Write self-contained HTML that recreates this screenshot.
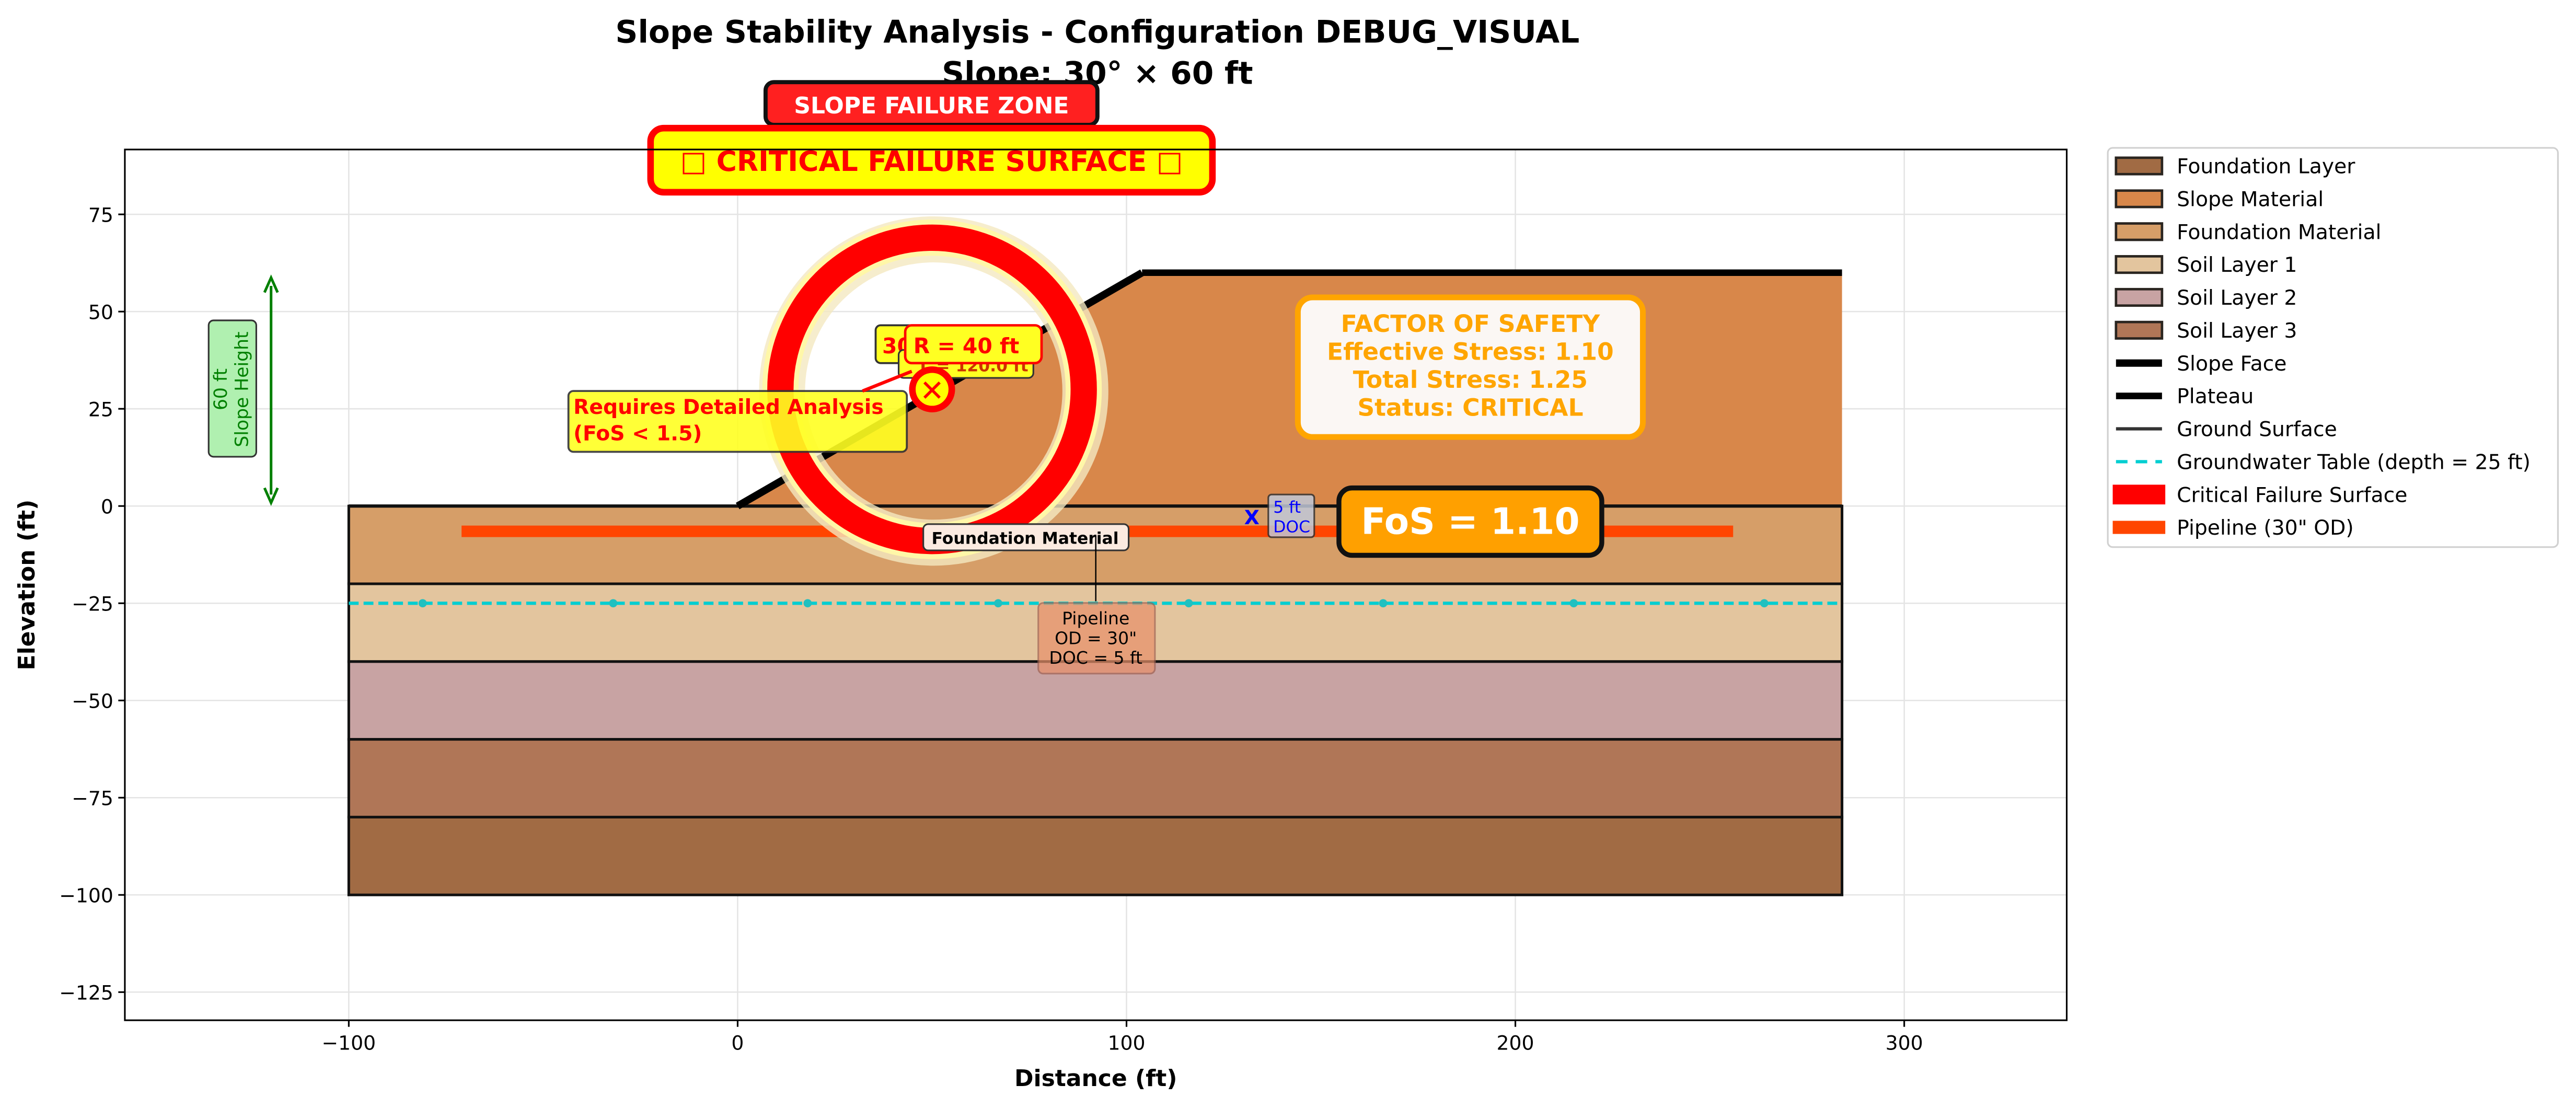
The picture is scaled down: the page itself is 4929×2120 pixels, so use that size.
<!DOCTYPE html>
<html><head><meta charset="utf-8"><style>
html,body{margin:0;padding:0;background:#fff}
svg{display:block;font-family:"DejaVu Sans","Liberation Sans",sans-serif}
</style></head><body>
<svg id="chart" width="4929" height="2120" viewBox="0 0 1568 674.4" xmlns="http://www.w3.org/2000/svg">
<text x="668" y="26" text-anchor="middle" font-size="19" font-weight="bold">Slope Stability Analysis - Configuration DEBUG_VISUAL</text>
<text x="668" y="51" text-anchor="middle" font-size="19" font-weight="bold">Slope: 30° × 60 ft</text>
<g id="plot"></g>
<g id="legend"></g>
</svg>
<script>
const xTicks=[-100,0,100,200,300];
const yTicks=[75,50,25,0,-25,-50,-75,-100,-125];
const layerNames=["Foundation Material","Soil Layer 1","Soil Layer 2","Soil Layer 3","Foundation Layer"];
const layerTops=[0,-20,-40,-60,-80];
const layerBottoms=[-20,-40,-60,-80,-100];
const layerColors=["#d69e68","#e3c59e","#c8a3a3","#b07657","#a16b44"];
const slopeX=[0,104,284,284];
const slopeY=[0,60,60,0];
const groundX=[-100,284];
const gwDepth=-25;
const gwMarkers=[-81,-32,18,67,116,166,215,264];
const pipeX=[-71,256];
const pipeY=-6.5;
const circleCenter=[50,30];
const circleR=39;

const L=76,R=1258,T=91,B=621;
const X=v=>449+v*2.367;
const Y=v=>308-v*2.367;
const NS="http://www.w3.org/2000/svg";
const plot=document.getElementById('plot');
function el(tag,attrs,parent,text){const e=document.createElementNS(NS,tag);for(const k in attrs)e.setAttribute(k,attrs[k]);if(text!==undefined)e.textContent=text;(parent||plot).appendChild(e);return e;}

xTicks.forEach(t=>{const g=el('line',{x1:X(t),x2:X(t),y1:T,y2:B,stroke:'#e4e4e4','stroke-width':0.8});

});
yTicks.forEach(t=>{const g=el('line',{x1:L,x2:R,y1:Y(t),y2:Y(t),stroke:'#e4e4e4','stroke-width':0.8});

});

layerNames.forEach((n,i)=>{const r=el('rect',{x:X(-100),y:Y(layerTops[i]),width:X(284)-X(-100),height:Y(layerBottoms[i])-Y(layerTops[i]),fill:layerColors[i],stroke:'#111','stroke-width':1.6});

});
const sp=el('polygon',{points:slopeX.map((x,i)=>X(x)+','+Y(slopeY[i])).join(' '),fill:'#d8874a'});


const gs=el('line',{x1:X(groundX[0]),x2:X(groundX[1]),y1:Y(0),y2:Y(0),stroke:'#111','stroke-width':2});


const sf=el('line',{x1:X(slopeX[0]),y1:Y(slopeY[0]),x2:X(slopeX[1]),y2:Y(slopeY[1]),stroke:'#000','stroke-width':4.5});


const pl=el('line',{x1:X(slopeX[1]),y1:Y(slopeY[1]),x2:X(slopeX[2]),y2:Y(slopeY[2]),stroke:'#000','stroke-width':4});


const gw=el('line',{x1:X(-100),x2:X(284),y1:Y(gwDepth),y2:Y(gwDepth),stroke:'#00ced1','stroke-width':2,'stroke-dasharray':'6,3'});


gwMarkers.forEach(m=>{const c=el('circle',{cx:X(m),cy:Y(gwDepth),r:2.5,fill:'#20c0c0'});

});
const pp=el('line',{x1:X(pipeX[0]),x2:X(pipeX[1]),y1:Y(pipeY),y2:Y(pipeY),stroke:'#ff4500','stroke-width':7});



const cx=X(circleCenter[0]),cy=Y(circleCenter[1]),cr=circleR*2.367;
const h1=el('circle',{cx:cx+1,cy:cy+1,r:cr,fill:'none',stroke:'#f4e8c0','stroke-width':28,opacity:0.8});


const h2=el('circle',{cx,cy,r:cr,fill:'none',stroke:'#fff7a8','stroke-width':22});


const fc=el('circle',{cx,cy,r:cr,fill:'none',stroke:'#ff0000','stroke-width':16});



function box(name,x,y,w,h,fill,stroke,sw,rx,op){const r=el('rect',{x,y,width:w,height:h,fill,stroke,'stroke-width':sw,rx:rx||4,opacity:op||1});

return r;}
function txt(name,x,y,s,opts){const t=el('text',Object.assign({x,y},opts||{}),plot,s);

return t;}

box('requires-analysis-box',346,238,206,37,'#ffff22','#333',1.2,3,0.9);
txt('requires-analysis-text',349,252,'Requires Detailed Analysis',{'font-size':12.5,'font-weight':'bold',fill:'#ff0000'});
txt('requires-analysis-fos',349,268,'(FoS < 1.5)',{'font-size':12.5,'font-weight':'bold',fill:'#ff0000'});
box('angle-label-box',533,198,40,23,'#ffff22','#333',1.2,3);
txt('angle-label',537,215,'30°',{'font-size':13,'font-weight':'bold',fill:'#ff0000'});
box('length-label-box',547,213,82,17,'#ffff22','#333',1,3);
txt('length-label',560,226,'L = 120.0 ft',{'font-size':10,'font-weight':'bold',fill:'#cc3300'});
box('radius-label-box',551,198,83,23,'#ffff22','#ff0000',1.5,4);
txt('radius-label',556,215,'R = 40 ft',{'font-size':13,'font-weight':'bold',fill:'#ff0000'});
const ar=el('line',{x1:555,y1:226,x2:525,y2:238,stroke:'#ff0000','stroke-width':2});


const cm=el('circle',{cx,cy,r:12,fill:'#ffff00',stroke:'#ff0000','stroke-width':4});


txt('circle-center-x',cx,cy+7,'✕',{'font-size':18,'font-weight':'bold',fill:'#ff0000','text-anchor':'middle'});

box('slope-failure-zone-box',466,50,202,26,'#ff2020','#111',2.5,5);
txt('slope-failure-zone-text',567,69,'SLOPE FAILURE ZONE',{'font-size':14,'font-weight':'bold',fill:'#fff','text-anchor':'middle'});
box('critical-failure-banner',396,78,342,39,'#ffff00','#ff0000',4,8);
txt('critical-failure-banner-text',567,104,'□ CRITICAL FAILURE SURFACE □',{'font-size':17,'font-weight':'bold',fill:'#ff0000','text-anchor':'middle'});

box('factor-of-safety-box',790,181,210,85,'#fbf7f4','#ffa500',3.5,9);
[['FACTOR OF SAFETY',202],['Effective Stress: 1.10',219],['Total Stress: 1.25',236],['Status: CRITICAL',253]].forEach(([s,y])=>txt('fos-summary-line',895,y,s,{'font-size':14.5,'font-weight':'bold',fill:'#ffa500','text-anchor':'middle'}));
box('fos-badge',815,297,160,41,'#ffa000','#111',3,8);
txt('fos-badge-text',895,325,'FoS = 1.10',{'font-size':22,'font-weight':'bold',fill:'#fff','text-anchor':'middle'});

txt('doc-marker',762,319,'X',{'font-size':12,'font-weight':'bold',fill:'#0000ff','text-anchor':'middle'});
box('doc-box',772,301,28,26,'#c0c8d8','#333',1,2,0.85);
txt('doc-label-1',775,312,'5 ft',{'font-size':10,fill:'#0000ff'});
txt('doc-label-2',775,324,'DOC',{'font-size':10,fill:'#0000ff'});

box('foundation-material-label-box',562,319,125,16,'#fbeae0','#333',1,3);
txt('foundation-material-label',624,331,'Foundation Material',{'font-size':10,'font-weight':'bold',fill:'#000','text-anchor':'middle'});
const pa=el('line',{x1:667,y1:326,x2:667,y2:366,stroke:'#000','stroke-width':0.8});


box('pipeline-label-box',632,367,71,43,'#e8906a','#a06050',1,3,0.7);
[['Pipeline',380],['OD = 30"',392],['DOC = 5 ft',404]].forEach(([s,y])=>txt('pipeline-label-line',667,y,s,{'font-size':10.5,fill:'#000','text-anchor':'middle'}));

const sh=el('line',{x1:165,y1:174,x2:165,y2:301,stroke:'#008000','stroke-width':1.6});


const a1=el('path',{d:'M161,178 L165,169 L169,178 M161,297 L165,306 L169,297',fill:'none',stroke:'#008000','stroke-width':1.6});


box('slope-height-box',127,195,29,83,'#b0f0b0','#333',1,3);
txt('slope-height-label-1',0,0,'60 ft',{'font-size':11,fill:'#008000','text-anchor':'middle',transform:'translate(138,237) rotate(-90)'});
txt('slope-height-label-2',0,0,'Slope Height',{'font-size':11,fill:'#008000','text-anchor':'middle',transform:'translate(151,237) rotate(-90)'});

const fr=el('rect',{x:L,y:T,width:R-L,height:B-T,fill:'none',stroke:'#000','stroke-width':1});


xTicks.forEach(t=>{const l=el('line',{x1:X(t),x2:X(t),y1:B,y2:B+4,stroke:'#000'});


txt('x-tick-label',X(t),B+18,String(t).replace('-','−'),{'font-size':12,'text-anchor':'middle'});});
yTicks.forEach(t=>{const l=el('line',{x1:L-4,x2:L,y1:Y(t),y2:Y(t),stroke:'#000'});


txt('y-tick-label',L-7,Y(t)+4.5,String(t).replace('-','−'),{'font-size':12,'text-anchor':'end'});});
txt('x-axis-title',(L+R)/2,661,'Distance (ft)',{'font-size':14,'font-weight':'bold','text-anchor':'middle'});
txt('y-axis-title',0,0,'Elevation (ft)',{'font-size':14,'font-weight':'bold','text-anchor':'middle',transform:'translate(21,356) rotate(-90)'});

const lg=document.getElementById('legend');
const legendLabels=["Foundation Layer","Slope Material","Foundation Material","Soil Layer 1","Soil Layer 2","Soil Layer 3","Slope Face","Plateau","Ground Surface","Groundwater Table (depth = 25 ft)","Critical Failure Surface","Pipeline (30\" OD)"];
const legendColors=["#a16b44","#d8874a","#d69e68","#e3c59e","#c8a3a3","#b07657","#000","#000","#333","#00ced1","#ff0000","#ff4500"];
const legendKinds=["patch","patch","patch","patch","patch","patch","line","line","line","dash","line","line"];
const legendWidths=[0,0,0,0,0,0,4.5,4,2,2,12,8];
const bg=el('rect',{x:1283,y:90,width:274,height:243,fill:'#fff',stroke:'#d0d0d0','stroke-width':1,rx:3},lg);


legendLabels.forEach((s,i)=>{const y=101+i*20;
const g=el('g',{},lg);


if(legendKinds[i]==='patch'){el('rect',{x:1288,y:y-5,width:28,height:10,fill:legendColors[i],stroke:'#2a2520','stroke-width':1.5},g);}
else{const w=legendWidths[i]>6?[1286,1318]:[1288,1316];el('line',{x1:w[0],x2:w[1],y1:y,y2:y,stroke:legendColors[i],'stroke-width':legendWidths[i],'stroke-dasharray':legendKinds[i]==='dash'?'7,5':'none'},g);}
el('text',{x:1325,y:y+4.5,'font-size':12.5},g,s);});
</script>
</body></html>
